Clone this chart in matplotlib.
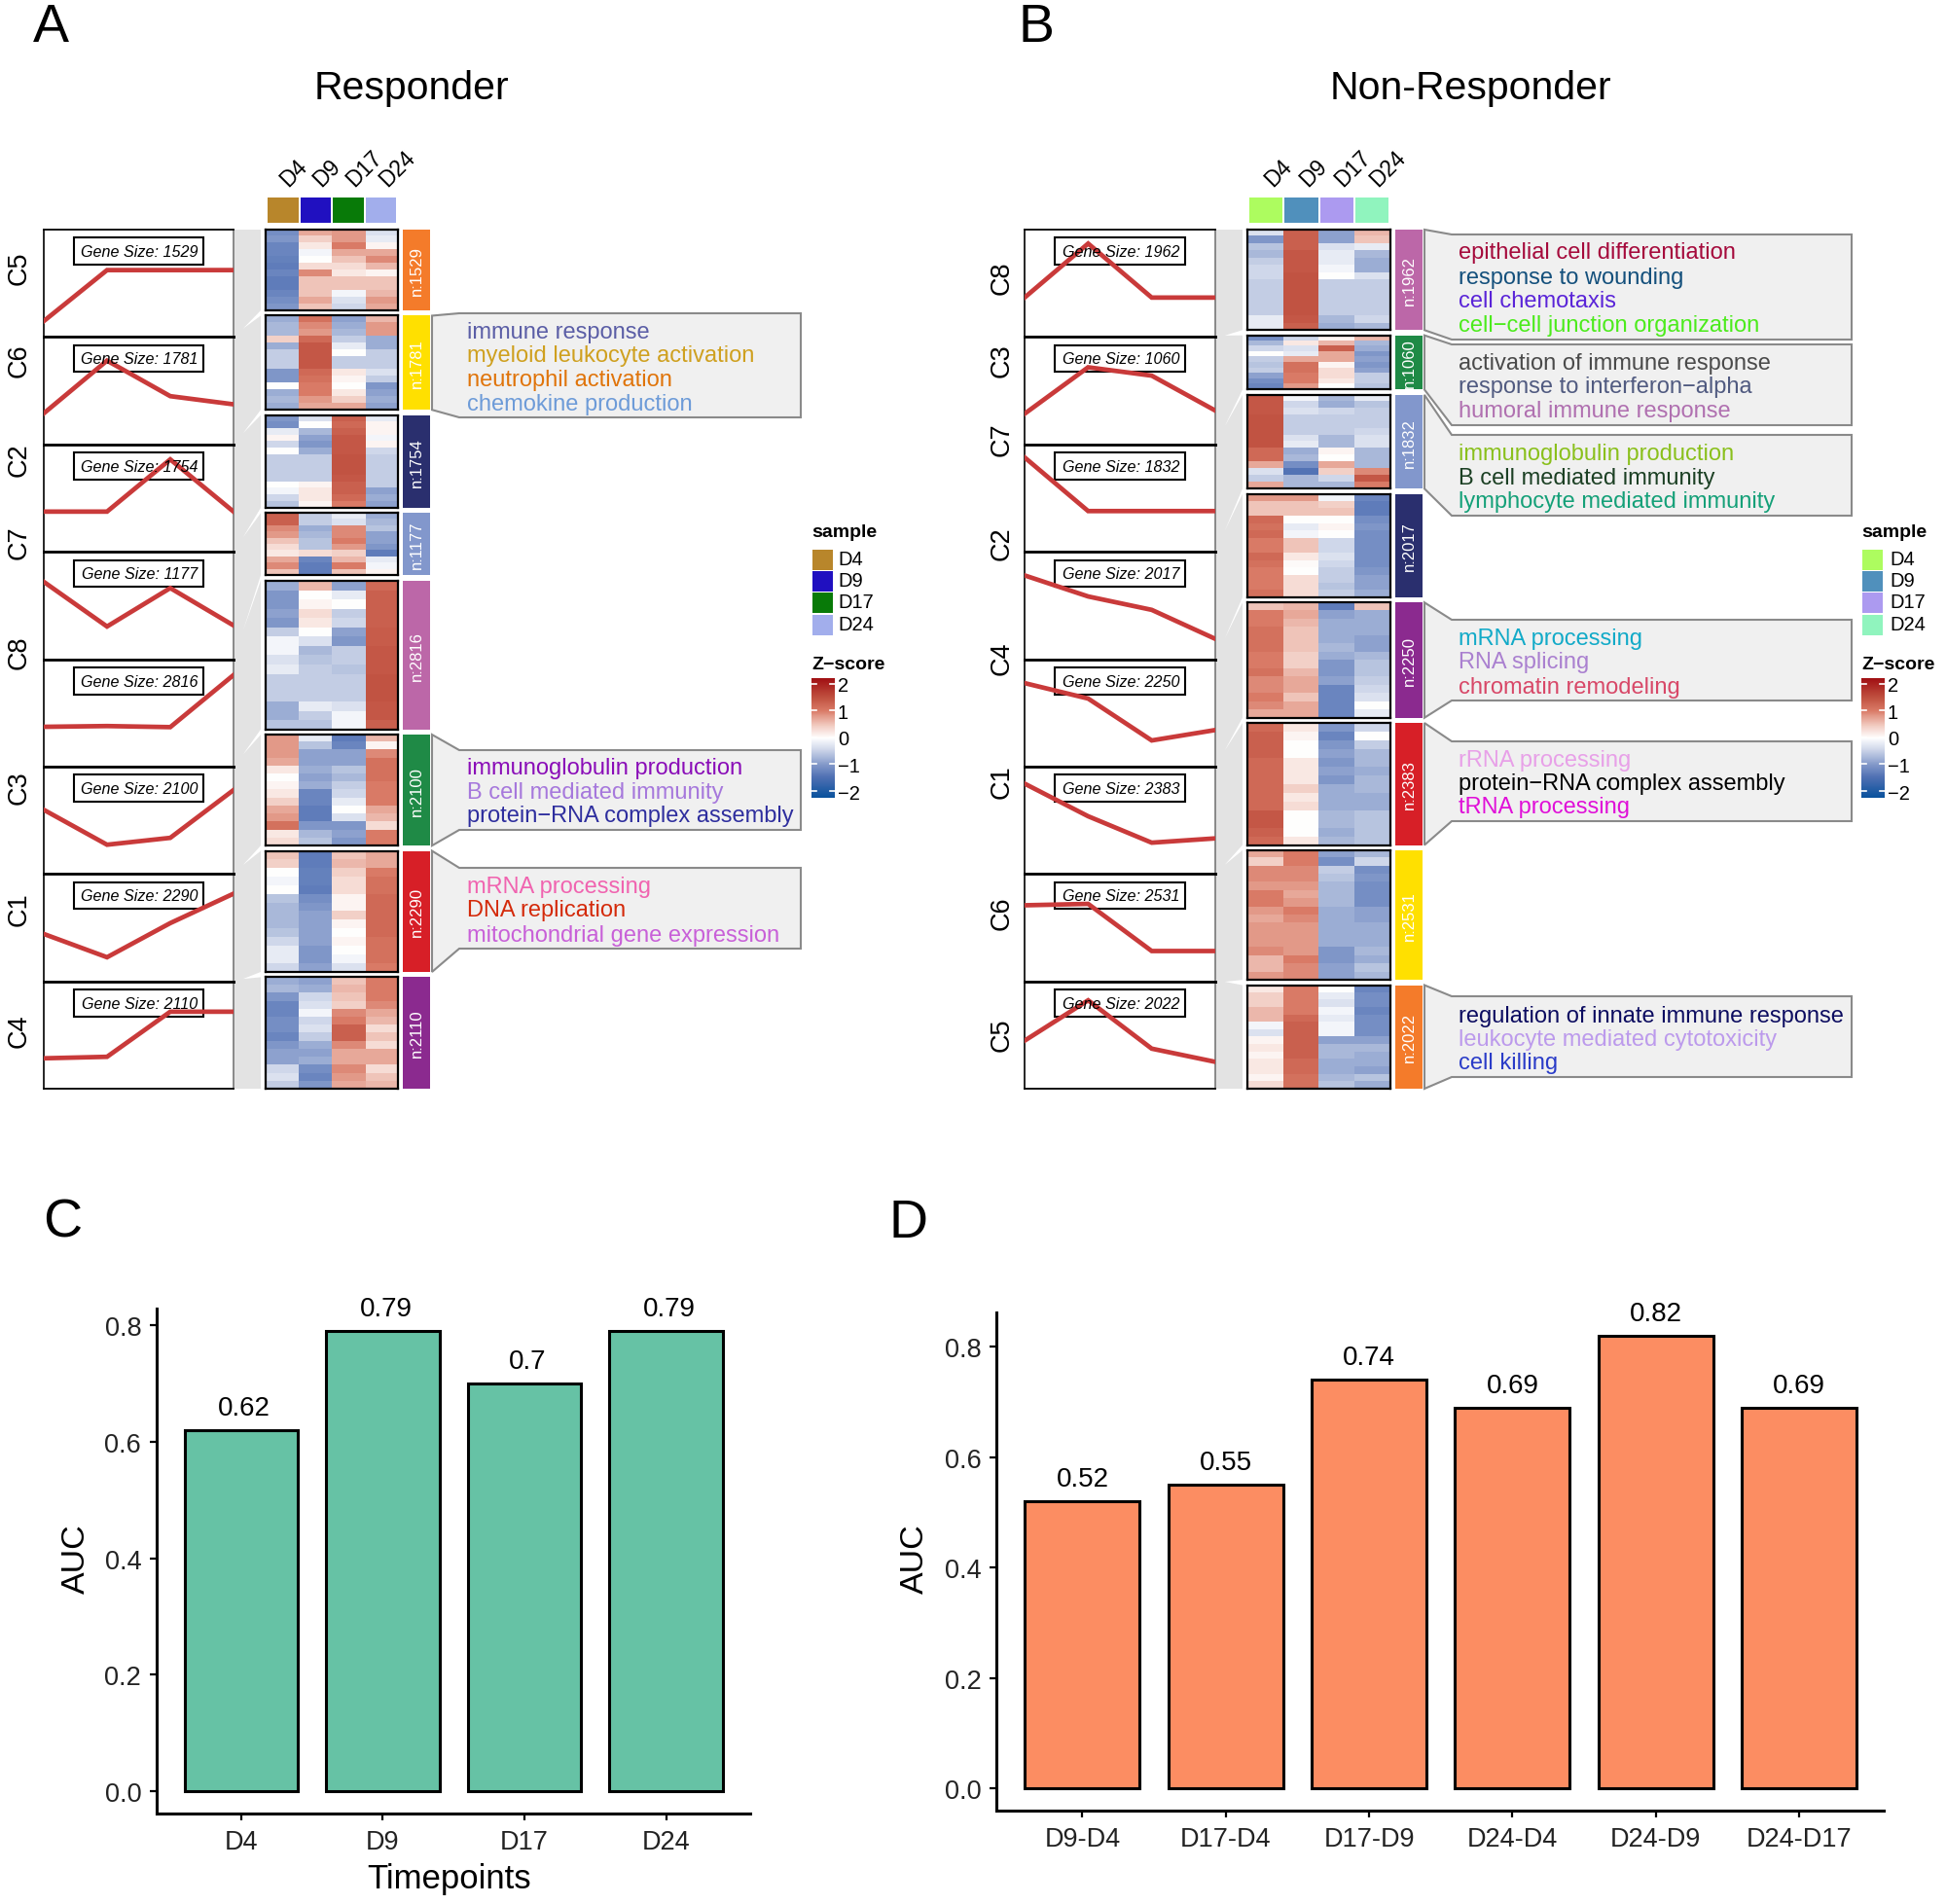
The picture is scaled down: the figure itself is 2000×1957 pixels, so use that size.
import numpy as np
import matplotlib
matplotlib.use("Agg")
import matplotlib.pyplot as plt
from matplotlib.colors import LinearSegmentedColormap, Normalize
from matplotlib.cm import ScalarMappable
from matplotlib.patches import Rectangle, Polygon

plt.rcParams['font.family'] = ['Liberation Sans', 'DejaVu Sans']
W, H = 2000, 1958

# ------------------------------------------------------------------ data
days = ['D4', 'D9', 'D17', 'D24']
resp_clusters = ['C5', 'C6', 'C2', 'C7', 'C8', 'C3', 'C1', 'C4']
resp_sizes = [1529, 1781, 1754, 1177, 2816, 2100, 2290, 2110]
nonr_clusters = ['C8', 'C3', 'C7', 'C2', 'C4', 'C1', 'C6', 'C5']
nonr_sizes = [1962, 1060, 1832, 2017, 2250, 2383, 2531, 2022]

resp_lines = [
    [.148, .623, .623, .623], [.289, .78, .449, .373], [.374, .374, .86, .374],
    [.72, .304, .662, .314], [.37, .377, .367, .852], [.597, .272, .336, .781],
    [.441, .224, .542, .816], [.283, .297, .717, .717]]
nonr_lines = [
    [.367, .87, .367, .367], [.285, .718, .64, .315], [.879, .379, .379, .379],
    [.78, .584, .459, .189], [.777, .633, .243, .34], [.841, .537, .291, .331],
    [.708, .721, .282, .282], [.447, .823, .373, .25]]

r_C5 = [[-1.1,.7,.8,-.3],[-1.0,.4,.8,-.2],[-1.2,.2,1.0,.1],[-1.2,-.1,.7,.7],[-1.25,.0,.5,.9],[-1.3,.3,.3,.6],
        [-1.2,.9,.2,.1],[-1.3,.5,.5,.5],[-1.3,.5,.5,.5],[-1.2,.5,-.1,.6],[-1.1,.7,-.3,.8],[-1.0,.5,-.4,.7]]
r_C6 = [[-.8,1.1,-.9,.6],[-.7,.9,-.8,.8],[-.7,.8,-.7,.8],[.4,1.2,-.5,-.8],[-.8,1.4,-.2,-.8],[-.5,1.4,.0,-.5],
        [-.5,1.4,-.5,-.5],[-.5,1.4,-.5,-.5],[-1.0,1.2,.2,-.3],[-1.0,1.1,.1,-.5],[0,1.0,0,-1.0],[-.8,1.0,.2,-.9],
        [-.7,.8,.4,-.8],[-.8,.7,.7,-.9]]
r_C2 = [[-1.0,-.3,1.3,-.2],[-1.1,.0,1.2,.1],[-.2,-.7,1.3,.1],[.1,-.9,1.4,-.1],[-.4,-1,1.4,.1],[0,-.8,1.4,-.4],
        [-.5,-.5,1.45,-.5],[-.5,-.5,1.45,-.5],[-.5,-.5,1.45,-.5],[-.5,-.5,1.4,-.5],[.0,.1,1.3,-.5],[-.1,.2,1.3,-.9],
        [-.4,.2,1.2,-.8],[-.6,.1,1.0,-.9]]
r_C7 = [[1.3,-.5,-.2,-.8],[1.3,-.5,-.3,-.7],[.9,-.8,.9,-.6],[.8,-.7,.9,-.9],[.5,-.6,1.0,-.9],[.3,-.6,.8,-1.0],
        [.2,.3,.4,-1.3],[.7,-1.2,.6,-.2],[.9,-1.3,1.0,-.1],[.5,-1.3,.5,.1]]
r_C8 = [[-.8,.6,-.9,1.2],[-1.0,0,-.2,1.3],[-1.0,.1,.0,1.3],[-.9,.3,-.5,1.3],[-1.0,.2,-.4,1.3],[-.5,.0,-.9,1.35],
        [-.1,-.3,-1.0,1.35],[-.1,-.7,-.5,1.4],[-.3,-.6,-.5,1.4],[-.2,-.5,-.6,1.4],[-.5,-.5,-.5,1.45],[-.5,-.5,-.5,1.45],
        [-.5,-.5,-.5,1.45],[-.8,-.2,-.3,1.4],[-.8,-.5,-.1,1.4],[-.6,-.6,-.1,1.3]]
r_C3 = [[.8,-.2,-1.3,.6],[.8,-.6,-1.2,.1],[.8,-.9,-.9,.9],[.7,-.9,-.9,1.1],[.2,-.8,-.6,1.1],[.0,-.9,-.7,1.1],
        [.1,-.8,-.5,1.0],[.2,-1.2,-.4,1.0],[.4,-1.2,-.2,1.0],[.7,-1.3,.0,.7],[.8,-1.3,-.3,.6],[1.1,-1.0,-1.0,.3],
        [.2,-.7,-.9,1.0],[.3,-.6,-1.0,1.0]]
r_C1 = [[.5,-1.3,.5,.7],[.4,-1.3,.6,.7],[.0,-1.25,.4,1.0],[-.1,-1.25,.3,1.1],[0,-1.3,.3,1.1],[-.6,-1.1,.1,1.2],
        [-.7,-1,.1,1.2],[-.7,-.9,.4,1.2],[-.7,-.9,.1,1.2],[-.6,-.9,.0,1.2],[-.4,-.9,.1,1.1],[-.2,-1.0,.0,1.1],
        [-.2,-1.0,-.1,1.1],[-.4,-.9,-.3,1.0]]
r_C4 = [[-.8,-.9,.5,1.0],[-.7,-.8,.6,1.0],[-1.0,-.4,.5,1.0],[-1.2,-.3,.4,.9],[-1.2,-.1,.9,.7],[-1.1,-.4,1.0,.6],
        [-1.1,-.3,1.3,.3],[-1.2,-.5,1.3,.5],[-1.0,-.8,.9,.3],[-.9,-.9,.7,.7],[-.9,-.8,.7,.7],[-.4,-1.1,.9,.3],
        [-.3,-1.2,.8,.5],[-.5,-1.0,.7,.6]]
n_C8 = [[-.3,1.3,-.9,.6],[-1.0,1.3,-.9,.5],[-.6,1.3,-.3,-.2],[-.7,1.4,-.2,-.7],[-.5,1.4,-.2,-.8],[-.4,1.4,-.1,-.8],
        [-.4,1.45,.0,-.3],[-.5,1.45,-.5,-.5],[-.5,1.45,-.5,-.5],[-.5,1.45,-.5,-.5],[-.5,1.45,-.5,-.5],[-.5,1.45,-.5,-.5],
        [-.2,1.4,-.7,-.4],[-.2,1.3,-.8,-.7]]
n_C3 = [[-1.1,-.4,.1,.6],[-.7,.2,.6,-.7],[-.4,-.3,1.3,-.8],[0,-.2,.7,-1.0],[-.5,.7,.7,-.9],[-.6,1.1,.1,-1.0],
        [-.5,1.1,.3,-.9],[-.9,1.0,.3,-.5],[-1.1,1.0,.2,-.5],[-1.2,.8,.0,-.6]]
n_C7 = [[1.4,-.1,-.7,-.2],[1.4,-.4,-.8,-.6],[1.4,-.3,-.4,-.5],[1.45,-.5,-.5,-.5],[1.45,-.5,-.5,-.5],[1.45,-.5,-.5,-.4],
        [1.45,-.3,-.7,-.3],[1.45,-.2,-.7,-.3],[1.2,-.8,.1,-.7],[1.2,-.7,.0,-.7],[.7,-1.1,.7,-.7],[-.3,-1.4,.4,.9],
        [-.5,-.7,-.4,1.4],[.7,-.7,-.7,1.0]]
n_C2 = [[.8,.8,-.1,-1.2],[.5,.5,.4,-1.3],[.5,.5,.5,-1.3],[1.2,.0,.0,-1.1],[1.1,-.2,.1,-1.0],[1.2,-.1,.0,-1.1],
        [1.0,.5,-.4,-1.1],[1.0,.5,-.4,-1.1],[1.2,.2,-.3,-1.1],[1.1,.05,-.4,-1.1],[1.0,.0,-.5,-1.0],[1.0,.3,-.5,-.9],
        [1.0,.3,-.6,-.9],[1.1,.3,-.5,-.8]]
n_C4 = [[.5,.6,-1.3,.5],[1.0,.7,-.9,-.8],[1.0,.6,-.8,-.8],[1.1,.5,-.8,-.8],[1.1,.5,-.8,-.9],[1.1,.5,-.7,-.9],
        [1.0,.4,-.8,-.7],[1.0,.4,-1.0,-.6],[1.1,.6,-1.0,-.6],[.9,.7,-.9,-.5],[.9,.7,-1.2,-.4],[1.0,.5,-1.2,-.3],
        [.9,.7,-1.2,.0],[.7,.7,-1.2,-.2]]
n_C1 = [[1.2,.2,-1.0,-.4],[1.3,.1,-1.2,.0],[1.3,.0,-1.0,-.5],[1.3,.0,-.9,-.7],[1.2,.2,-1.0,-.7],[1.2,.2,-.9,-.8],
        [1.2,.2,-1.0,-.7],[1.2,.4,-.8,-.7],[1.2,.2,-.8,-.8],[1.2,.3,-.8,-.8],[1.4,.0,-.7,-.6],[1.4,.0,-.7,-.6],
        [1.3,.0,-.8,-.6],[1.2,.2,-.7,-.6]]
n_C6 = [[.7,1.0,-.9,-.7],[.4,1.0,-1.1,-.4],[.9,.9,-.5,-1.1],[.9,.9,-.6,-1.0],[.8,.8,-.7,-1.1],[1.0,.7,-.7,-1.1],
        [1.0,.8,-.7,-1.1],[.8,1.0,-.8,-.9],[.7,.9,-.8,-.9],[.8,.8,-.8,-.8],[.8,.8,-.8,-.8],[.8,.8,-.8,-.8],
        [.9,.8,-1.0,-.7],[.6,1.0,-1.0,-.8],[.6,.9,-.9,-.6],[.8,.9,-.9,-.7]]
n_C5 = [[.2,1.0,.0,-1.2],[.4,1.0,-.2,-1.1],[.4,1.0,-.3,-1.1],[.6,1.0,-.1,-1.2],[.6,1.2,-.2,-1.1],[-.1,1.3,-.1,-1.1],
        [-.3,1.3,-.1,-1.1],[.1,1.3,-.9,-.9],[.2,1.3,-.7,-.7],[.1,1.3,-.7,-.8],[.2,1.2,-.8,-.8],[.2,1.2,-.8,-.9],
        [.1,1.1,-.7,-.6],[.3,1.1,-.6,-.8]]
resp_heat = [r_C5, r_C6, r_C2, r_C7, r_C8, r_C3, r_C1, r_C4]
nonr_heat = [n_C8, n_C3, n_C7, n_C2, n_C4, n_C1, n_C6, n_C5]

cluster_colors = {'C1': '#D71F27', 'C2': '#2A2F6E', 'C3': '#1F8A46', 'C4': '#8B2A8F',
                  'C5': '#F47B2A', 'C6': '#FFE000', 'C7': '#8297CC', 'C8': '#BC67A8'}
resp_day_colors = ['#B8862B', '#2010C0', '#087A08', '#A2AEEC']
nonr_day_colors = ['#ADFC5F', '#5090BC', '#AC9AF0', '#90F4BE']

resp_terms = {
    'C6': [('immune response', '#5B5EA6'), ('myeloid leukocyte activation', '#CFA01F'),
           ('neutrophil activation', '#E0740A'), ('chemokine production', '#6D9BD8')],
    'C3': [('immunoglobulin production', '#8A0DB8'), ('B cell mediated immunity', '#A678DC'),
           ('protein\u2212RNA complex assembly', '#2E2E9E')],
    'C1': [('mRNA processing', '#F064B0'), ('DNA replication', '#D42A0A'),
           ('mitochondrial gene expression', '#C860D8')]}
nonr_terms = {
    'C8': [('epithelial cell differentiation', '#A50A3C'), ('response to wounding', '#14507C'),
           ('cell chemotaxis', '#5A24D8'), ('cell\u2212cell junction organization', '#4CEB1C')],
    'C3': [('activation of immune response', '#4A4A4A'), ('response to interferon\u2212alpha', '#505A80'),
           ('humoral immune response', '#B070B0')],
    'C7': [('immunoglobulin production', '#8AC01C'), ('B cell mediated immunity', '#1C4024'),
           ('lymphocyte mediated immunity', '#14A078')],
    'C4': [('mRNA processing', '#12AAC8'), ('RNA splicing', '#AA80D0'), ('chromatin remodeling', '#D84868')],
    'C1': [('rRNA processing', '#E8A0E8'), ('protein\u2212RNA complex assembly', '#000000'),
           ('tRNA processing', '#E010D8')],
    'C5': [('regulation of innate immune response', '#0C0C60'), ('leukocyte mediated cytotoxicity', '#BC9AEC'),
           ('cell killing', '#2A3CC8')]}

auc_c_labels = ['D4', 'D9', 'D17', 'D24']
auc_c_values = [0.62, 0.79, 0.70, 0.79]
auc_c_text = ['0.62', '0.79', '0.7', '0.79']
auc_d_labels = ['D9-D4', 'D17-D4', 'D17-D9', 'D24-D4', 'D24-D9', 'D24-D17']
auc_d_values = [0.52, 0.55, 0.74, 0.69, 0.82, 0.69]
auc_d_text = ['0.52', '0.55', '0.74', '0.69', '0.82', '0.69']
y_ticks = [0.0, 0.2, 0.4, 0.6, 0.8]

# ------------------------------------------------------------------ helpers
fig = plt.figure(figsize=(W / 100, H / 100), dpi=100, facecolor='white')
ov = fig.add_axes([0, 0, 1, 1], zorder=0)
ov.set_xlim(0, W); ov.set_ylim(H, 0); ov.axis('off')


def axpx(x0, y0, x1, y1, **kw):
    return fig.add_axes([x0 / W, 1 - y1 / H, (x1 - x0) / W, (y1 - y0) / H], **kw)


cmap = LinearSegmentedColormap.from_list('z', [
    (0.0, '#08519C'), (0.17, '#4F70B3'), (0.27, '#7F96C8'), (0.385, '#C4CEE5'), (0.5, '#FFFFFF'),
    (0.615, '#F0C5BA'), (0.73, '#D97A66'), (0.84, '#C0503F'), (1.0, '#A00E12')])
norm = Normalize(-2.2, 2.2)

ROW_TOP, ROW_BOT = 237.0, 1120.0
GAP = 5.4


def panel(clusters, sizes, lines, heats, day_colors, terms, g):
    pitch = (ROW_BOT - ROW_TOP) / 8
    scale = (ROW_BOT - ROW_TOP - 7 * GAP) / sum(sizes)
    xl0, xl1, xb = g['line0'], g['line1'], g['band1']
    ov.add_patch(Rectangle((xl1, ROW_TOP), xb - xl1, ROW_BOT - ROW_TOP, fc='#E3E3E3', ec='none'))
    y = ROW_TOP
    for i, c in enumerate(clusters):
        h = sizes[i] * scale
        y0, y1 = y, y + h
        # trend panel
        lt = ROW_TOP + i * pitch
        a = axpx(xl0, lt, xl1, lt + pitch, zorder=3)
        a.set_xlim(0, 3); a.set_ylim(0, 1)
        a.set_xticks([]); a.set_yticks([])
        for s in a.spines.values():
            s.set_linewidth(1.3); s.set_color('black')
        if i > 0:
            a.spines['top'].set_linewidth(2.0)
        if i < 7:
            a.spines['bottom'].set_linewidth(2.0)
        a.spines['left'].set_linewidth(1.2)
        a.spines['right'].set_color('#777777')
        a.spines['right'].set_linewidth(1.2)
        a.add_patch(Rectangle((g['lab0'], 1 - 36 / pitch), g['lab1'] - g['lab0'], 27.5 / pitch,
                              transform=a.transAxes, fc='white', ec='black', lw=1.5, zorder=2))
        a.plot(range(4), lines[i], color='#C93A3A', lw=3.4, zorder=3, solid_joinstyle='miter')
        a.text((g['lab0'] + g['lab1']) / 2 + 0.005, 1 - 22.5 / pitch, 'Gene Size: %d' % sizes[i], transform=a.transAxes,
               ha='center', va='center', style='italic', fontsize=11.6, color='black', zorder=4)
        # heatmap
        ha = axpx(g['heat0'], y0, g['heat1'], y1, zorder=3)
        ha.imshow(np.array(heats[i]), aspect='auto', cmap=cmap, norm=norm, interpolation='nearest')
        ha.set_xticks([]); ha.set_yticks([])
        for s in ha.spines.values():
            s.set_linewidth(1.6); s.set_color('black')
        # cluster bar
        ov.add_patch(Rectangle((g['bar0'], y0), g['bar1'] - g['bar0'], h, fc=cluster_colors[c], ec='none'))
        ov.text((g['bar0'] + g['bar1']) / 2, (y0 + y1) / 2, 'n:%d' % sizes[i], rotation=90, color='white',
                fontsize=12, ha='center', va='center')
        # cluster label
        ov.text(g['lab_x'], (y0 + y1) / 2 - 3, c, rotation=90, fontsize=19.5, ha='center', va='center')
        # wedge
        if i < 7:
            g1, g2 = y1, y1 + GAP
            b = lt + pitch
            tip = (xb - 0.65 * (xb - xl1), (g1 + g2) / 2 + 0.65 * (b - (g1 + g2) / 2))
            ov.add_patch(Polygon([(xb, g1), (xb, g2), tip], fc='white', ec='none', zorder=3))
        # callout
        if c in terms:
            by0, by1 = g['bodies'][c]
            ov.add_patch(Polygon([(g['tip'], y0), (g['body0'], by0), (g['body1'], by0), (g['body1'], by1),
                                  (g['body0'], by1), (g['tip'], y1)], closed=True, fc='#F0F0F0', ec='#8A8A8A', lw=1.5,
                                 zorder=2))
            for (txt, col), ty in zip(terms[c], g['text_y'][c]):
                ov.text(g['text_x'], ty + 1, txt, color=col, fontsize=17, ha='left', va='center', zorder=4)
        y = y1 + GAP
    # column headers
    w = (g['heat1'] - g['heat0'] - 2) / 4
    for k, d in enumerate(days):
        xx = g['heat0'] + 1 + k * w
        ov.add_patch(Rectangle((xx + 1, 204), w - 2, 26, fc=day_colors[k], ec='none'))
        ov.text(g['day_x'] + k * g['day_dx'], 197, d, rotation=45, rotation_mode='anchor', ha='left', va='bottom',
                fontsize=16.5)
    # sample legend
    ov.text(g['leg0'], 548, 'sample', fontweight='bold', fontsize=14, ha='left', va='center')
    for k, d in enumerate(days):
        yy = [576, 598, 620, 643][k]
        ov.add_patch(Rectangle((g['leg0'] + 1, yy - 10.5), 21, 21, fc=day_colors[k], ec='none'))
        ov.text(g['leg_txt'], yy, d, fontsize=14.5, ha='left', va='center')
    # z-score colourbar
    ov.text(g['leg0'], 684, 'Z\u2212score', fontweight='bold', fontsize=14, ha='left', va='center')
    cax = axpx(g['leg0'], 698, g['leg0'] + 24, 821, zorder=3)
    cb = fig.colorbar(ScalarMappable(norm=Normalize(-2.25, 2.2), cmap=cmap), cax=cax)
    cb.outline.set_visible(False)
    cb.set_ticks([-2, -1, 0, 1, 2])
    cb.set_ticklabels(['\u22122', '\u22121', '0', '1', '2'])
    cax.tick_params(length=0, labelsize=14.5, pad=2)
    for v in [-2, -1, 0, 1, 2]:
        cax.plot([0, .22], [v, v], color='white', lw=1.2)
        cax.plot([.78, 1], [v, v], color='white', lw=1.2)
    cax.set_xlim(0, 1)


panel(resp_clusters, resp_sizes, resp_lines, resp_heat, resp_day_colors, resp_terms, dict(
    line0=45, line1=240, band1=268, lab0=(76 - 45) / 195, lab1=(209 - 45) / 195,
    heat0=273, heat1=409, bar0=414, bar1=442, lab_x=20, tip=444, body0=472, body1=823, text_x=480,
    day_x=300, day_dx=34, leg0=834, leg_txt=861,
    bodies={'C6': (323, 430), 'C3': (772, 854), 'C1': (893, 976)},
    text_y={'C6': [341, 365, 390, 415], 'C3': [789, 814, 838], 'C1': [911, 935, 961]}))
panel(nonr_clusters, nonr_sizes, nonr_lines, nonr_heat, nonr_day_colors, nonr_terms, dict(
    line0=1053, line1=1249, band1=1277, lab0=(1084 - 1053) / 196, lab1=(1218 - 1053) / 196,
    heat0=1282, heat1=1429, bar0=1434, bar1=1462, lab_x=1030, tip=1464, body0=1492, body1=1903, text_x=1499,
    day_x=1312, day_dx=36, leg0=1913, leg_txt=1942,
    bodies={'C8': (242, 350), 'C3': (355, 438), 'C7': (448, 531), 'C4': (638, 721), 'C1': (763, 845),
            'C5': (1025, 1108)},
    text_y={'C8': [259, 285, 309, 334], 'C3': [373, 397, 422], 'C7': [466, 491, 515], 'C4': [656, 680, 706],
            'C1': [781, 805, 829], 'C5': [1044, 1068, 1092]}))

# titles and panel letters
ov.text(423, 91, 'Responder', fontsize=29.5, ha='center', va='center')
ov.text(1511, 91, 'Non-Responder', fontsize=29.5, ha='center', va='center')
for t, x, y in [('A', 52, 29), ('B', 1065, 29), ('C', 64, 1258), ('D', 933, 1258)]:
    ov.text(x, y, t, fontsize=40, ha='center', va='center')


def bars(box, labels, values, texts, color, xlim, ylim, ylab_x, xlabel=None, label_dx=0):
    ax = axpx(*box, zorder=3)
    xs = np.arange(len(labels))
    ax.bar(xs, values, width=0.8, color=color, edgecolor='black', linewidth=2.2)
    ax.set_xlim(*xlim); ax.set_ylim(*ylim)
    ax.set_xticks(xs); ax.set_xticklabels(labels)
    ax.set_yticks(y_ticks); ax.set_yticklabels(['%.1f' % v for v in y_ticks])
    ax.tick_params(length=5, width=1.6, labelsize=19.5, labelcolor='#222222', pad=6)
    ax.tick_params(axis='x', pad=6.5)
    for s in ['top', 'right']:
        ax.spines[s].set_visible(False)
    for s in ['left', 'bottom']:
        ax.spines[s].set_linewidth(2.2)
    for x, v, t in zip(xs, values, texts):
        ax.annotate(t, (x, v), xytext=(label_dx * 0.72, 23 * 0.72), textcoords='offset points', ha='center',
                    va='center', fontsize=20, color='black')
    ov.text(ylab_x, 1602, 'AUC', rotation=90, fontsize=24.5, ha='center', va='center')
    if xlabel:
        ov.text(462, 1932, xlabel, fontsize=25, ha='center', va='center')


bars((160.5, 1346, 770.5, 1865), auc_c_labels, auc_c_values, auc_c_text, '#66C2A5', (-0.6, 3.59), (-0.038, 0.828), 78,
     'Timepoints', label_dx=3)
bars((1024, 1350, 1936, 1862), auc_d_labels, auc_d_values, auc_d_text, '#FC8D62', (-0.6, 5.59), (-0.04, 0.862), 940)

fig.savefig('out.png', dpi=100, facecolor='white')
